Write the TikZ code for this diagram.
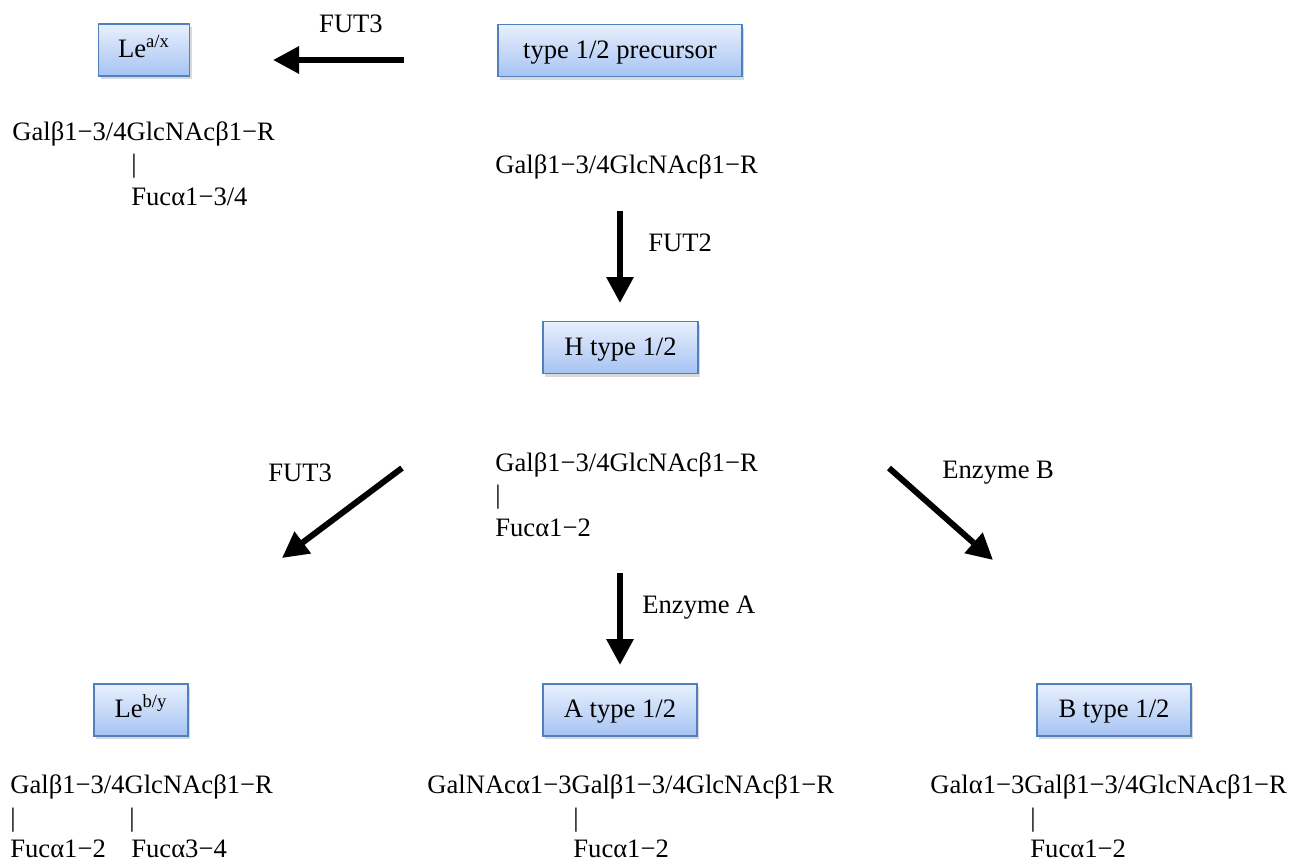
\documentclass[tikz,border=0pt]{standalone}
\usepackage{fontspec}
\setmainfont{Liberation Serif}
\usetikzlibrary{arrows.meta,shadows}
\definecolor{boxedge}{RGB}{79,129,189}
\definecolor{boxtop}{RGB}{232,240,253}
\definecolor{boxbot}{RGB}{166,195,243}
\tikzset{
  sugarbox/.style={draw=boxedge,line width=0.9pt,top color=boxtop,bottom color=boxbot,
    drop shadow={shadow xshift=1pt,shadow yshift=-1.5pt,opacity=0.3},
    minimum height=26pt,inner sep=2pt,text height=9.5pt,text depth=2pt},
  flow/.style={line width=3pt,-{Triangle[length=13pt,width=13pt]}},
  chain/.style={anchor=west,inner sep=0pt}
}
\begin{document}
\begin{tikzpicture}[x=0.5pt,y=0.5pt,yscale=-1,xscale=1,font=\fontsize{13.3pt}{16pt}\selectfont]
\useasboundingbox (0,0) rectangle (1299,863);

% boxes
\node [sugarbox,minimum width=45.5pt] (lea) at (144,50) {Le\textsuperscript{a/x}};
\node [sugarbox,minimum width=122pt] (prec) at (620,50.5) {type 1/2 precursor};
\node [sugarbox,minimum width=77.5pt] (htype) at (620.5,347.5) {H type 1/2};
\node [sugarbox,minimum width=47pt] (leb) at (141,710) {Le\textsuperscript{b/y}};
\node [sugarbox,minimum width=77pt] (atype) at (620,710) {A type 1/2};
\node [sugarbox,minimum width=77pt] (btype) at (1114,710) {B type 1/2};

% Text Node: chains
\node [chain] (precgal) at (495,167) {Galβ1−3/4GlcNAcβ1−R};
\node [chain] (leagal) at (12,134) {Galβ1−3/4GlcNAcβ1−R};
\node [chain] (leabar) at (131,166) {|};
\node [chain] (leafuc) at (131,197) {Fucα1−3/4};
\node [chain] (hgal) at (495,465) {Galβ1−3/4GlcNAcβ1−R};
\node [chain] (hbar) at (495,497) {|};
\node [chain] (hfuc) at (495,528) {Fucα1−2};
\node [chain] (lebgal) at (10,787) {Galβ1−3/4GlcNAcβ1−R};
\node [chain] (lebbara) at (10,820) {|};
\node [chain] (lebbarb) at (129,820) {|};
\node [chain] (lebfuca) at (10,849) {Fucα1−2};
\node [chain] (lebfucb) at (131,849) {Fucα3−4};
\node [chain] (agal) at (427,787) {GalNAcα1−3Galβ1−3/4GlcNAcβ1−R};
\node [chain] (abar) at (573,820) {|};
\node [chain] (afuc) at (573,849) {Fucα1−2};
\node [chain] (bgal) at (930,787) {Galα1−3Galβ1−3/4GlcNAcβ1−R};
\node [chain] (bbar) at (1030,820) {|};
\node [chain] (bfuc) at (1030,849) {Fucα1−2};

% arrow ends
\coordinate (fut3a) at (404,60);
\coordinate (fut3b) at (273,60);
\coordinate (fut2a) at (620,211);
\coordinate (fut2b) at (620,303);
\coordinate (leba) at (402,468);
\coordinate (lebb) at (282,558);
\coordinate (enza) at (620,573);
\coordinate (enzb) at (620,665);
\coordinate (bta) at (889,468);
\coordinate (btb) at (993,560);

\draw [flow] (fut3a) -- (fut3b);
\draw [flow] (fut2a) -- (fut2b);
\draw [flow] (leba) -- (lebb);
\draw [flow] (enza) -- (enzb);
\draw [flow] (bta) -- (btb);

% Text Node: enzymes
\node [inner sep=0pt] (fut3top) at (351,24) {FUT3};
\node [chain] (fut2lbl) at (648,243) {FUT2};
\node [chain] (fut3lbl) at (268,473) {FUT3};
\node [chain] (enzblbl) at (942,473) {Enzyme B};
\node [chain] (enzalbl) at (642,608) {Enzyme A};

\end{tikzpicture}
\end{document}
